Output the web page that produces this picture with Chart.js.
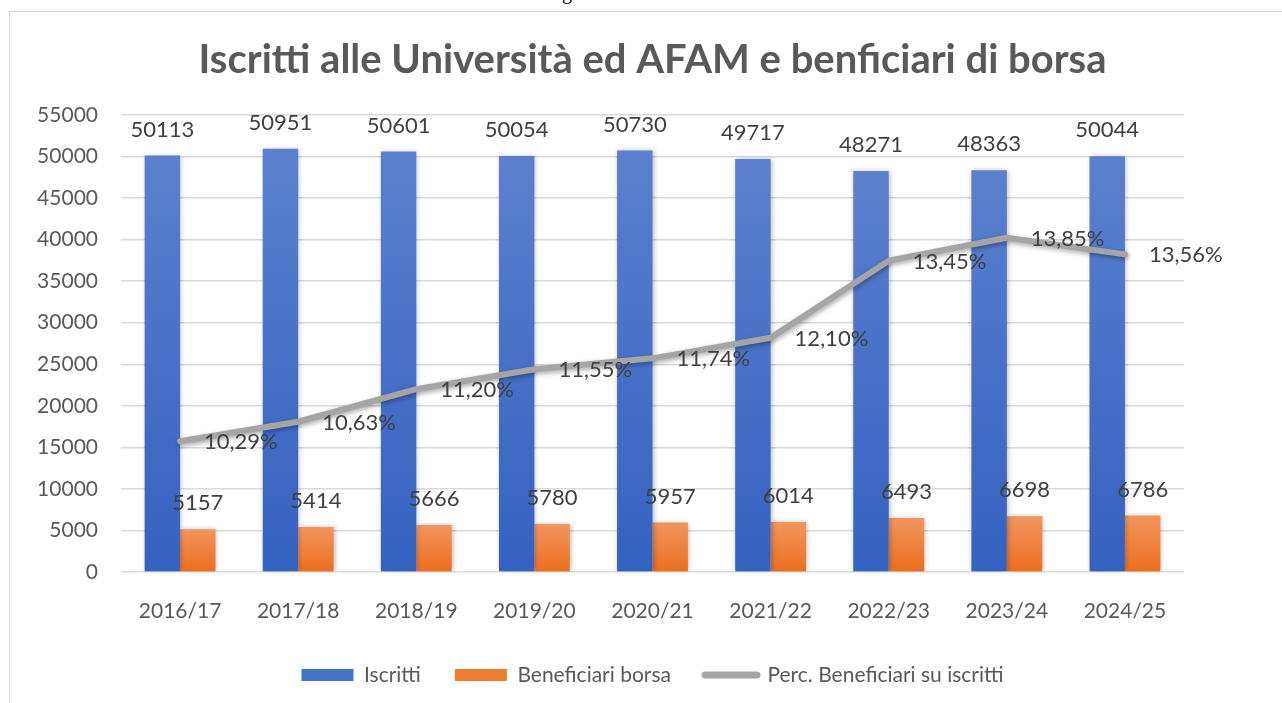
<!DOCTYPE html>
<html>
<head>
<meta charset="utf-8">
<title>Iscritti e beneficiari di borsa</title>
<script src="https://cdn.jsdelivr.net/npm/chart.js@4.4.1/dist/chart.umd.min.js"></script>
<style>
  html, body { margin: 0; padding: 0; background: #fff; overflow: hidden; width: 1282px; height: 703px; }
  #cut { position: absolute; left: 562px; top: -18px; font: 20px "Liberation Serif"; line-height: 20px; color: #000; }
  #frame { position: absolute; left: 9px; top: 11px; width: 1300px; height: 720px; border: 1px solid #d9d9d9; }
  #wrap { position: absolute; left: 0; top: 0; width: 1272px; height: 700px; }
</style>
</head>
<body>
<div id="cut">g</div>
<div id="frame"><div id="wrap"><canvas id="js--chart"></canvas></div></div>
<script>
const years = ["2016/17", "2017/18", "2018/19", "2019/20", "2020/21", "2021/22", "2022/23", "2023/24", "2024/25"];
const iscritti = [50113, 50951, 50601, 50054, 50730, 49717, 48271, 48363, 50044];
const beneficiari = [5157, 5414, 5666, 5780, 5957, 6014, 6493, 6698, 6786];
const percentuali = [10.29, 10.63, 11.20, 11.55, 11.74, 12.10, 13.45, 13.85, 13.56];
const yMin = 0, yMax = 55000, yStep = 5000;
const percMin = 8, percMax = 16;

const textGray = "#595959";
const labelGray = "#404040";

// gradient from the top of each bar down to the base
function barGradient(context, topColor, bottomColor) {
  const chart = context.chart;
  const yScale = chart.scales.y;
  if (!chart.chartArea || !yScale || context.type !== "data") return bottomColor;
  const yTop = yScale.getPixelForValue(context.raw);
  const yBase = yScale.getPixelForValue(0);
  if (!isFinite(yTop) || !isFinite(yBase) || yTop === yBase) return bottomColor;
  const g = chart.ctx.createLinearGradient(0, yTop, 0, yBase);
  g.addColorStop(0, topColor);
  g.addColorStop(1, bottomColor);
  return g;
}

function percText(v) {
  return v.toFixed(2).replace(".", ",") + "%";
}

const shadowPlugin = {
  id: "shadow",
  beforeDatasetDraw(chart, args) {
    const ctx = chart.ctx;
    ctx.save();
    if (args.meta.type === "line") {
      ctx.shadowColor = "rgba(0,0,0,0.35)";
      ctx.shadowBlur = 5;
      ctx.shadowOffsetX = 1;
      ctx.shadowOffsetY = 2;
    } else {
      ctx.shadowColor = "rgba(0,0,0,0.28)";
      ctx.shadowBlur = 5;
      ctx.shadowOffsetX = 1;
      ctx.shadowOffsetY = 0;
    }
  },
  afterDatasetDraw(chart) {
    chart.ctx.restore();
  }
};

const labelPlugin = {
  id: "valueLabels",
  afterDatasetsDraw(chart) {
    const ctx = chart.ctx;
    ctx.save();
    ctx.font = "22px Lato";
    ctx.fillStyle = labelGray;
    ctx.textBaseline = "middle";
    chart.data.datasets.forEach(function (ds, i) {
      const meta = chart.getDatasetMeta(i);
      meta.data.forEach(function (el, j) {
        if (ds.type === "line") {
          ctx.textAlign = "left";
          ctx.fillText(percText(ds.data[j]), el.x + 24, el.y + 1);
        } else {
          ctx.textAlign = "center";
          ctx.fillText(String(ds.data[j]), el.x, el.y - 26);
        }
      });
    });
    ctx.restore();
  }
};

const data = {
  labels: years,
  datasets: [
    {
      type: "bar",
      label: "Iscritti",
      data: iscritti,
      yAxisID: "y",
      order: 1,
      backgroundColor: function (c) { return barGradient(c, "#5B80CD", "#3462C1"); },
      categoryPercentage: 0.6,
      barPercentage: 1.0
    },
    {
      type: "bar",
      label: "Beneficiari borsa",
      data: beneficiari,
      yAxisID: "y",
      order: 1,
      backgroundColor: function (c) { return barGradient(c, "#F2955E", "#EC6E1E"); },
      categoryPercentage: 0.6,
      barPercentage: 1.0
    },
    {
      type: "line",
      label: "Perc. Beneficiari su iscritti",
      data: percentuali,
      yAxisID: "y1",
      order: 0,
      borderColor: "#A5A5A5",
      backgroundColor: "#A5A5A5",
      borderWidth: 6,
      borderCapStyle: "round",
      borderJoinStyle: "round",
      pointRadius: 0,
      tension: 0
    }
  ]
};

const config = {
  type: "bar",
  data: data,
  plugins: [shadowPlugin, labelPlugin],
  options: {
    responsive: true,
    maintainAspectRatio: false,
    animation: false,
    devicePixelRatio: 1,
    layout: { padding: { left: 0, right: 98, top: 0, bottom: 16.5 } },
    plugins: {
      tooltip: { enabled: false },
      title: {
        display: true,
        fullSize: false,
        text: "Iscritti alle Università ed AFAM e benficiari di borsa",
        color: textGray,
        font: { family: "Lato", size: 40, weight: "bold" },
        padding: { top: 24, bottom: 31 }
      },
      legend: {
        display: true,
        position: "bottom",
        fullSize: false,
        labels: {
          usePointStyle: true,
          pointStyleWidth: 52,
          boxHeight: 12,
          padding: 34,
          color: textGray,
          font: { family: "Lato", size: 21 },
          generateLabels: function (chart) {
            return [
              { text: "Iscritti", fillStyle: "#4472C4", strokeStyle: "#4472C4", lineWidth: 0, pointStyle: "rect", datasetIndex: 0, fontColor: textGray },
              { text: "Beneficiari borsa", fillStyle: "#EE7D31", strokeStyle: "#EE7D31", lineWidth: 0, pointStyle: "rect", datasetIndex: 1, fontColor: textGray },
              { text: "Perc. Beneficiari su iscritti", fillStyle: "#A5A5A5", strokeStyle: "#A5A5A5", lineWidth: 7, lineCap: "round", pointStyle: "line", datasetIndex: 2, fontColor: textGray }
            ];
          }
        }
      }
    },
    scales: {
      x: {
        grid: { display: false },
        border: { display: false },
        ticks: { color: textGray, font: { family: "Lato", size: 21 }, padding: 19 },
        afterFit: function (scale) { scale.height = 58.5; }
      },
      y: {
        position: "left",
        min: yMin,
        max: yMax,
        grid: { color: "#D9D9D9", lineWidth: 1.5, drawTicks: false },
        border: { display: false },
        ticks: {
          stepSize: yStep,
          color: textGray,
          font: { family: "Lato", size: 21 },
          padding: 23,
          callback: function (value) { return String(value); }
        },
        afterFit: function (scale) { scale.width = 111; }
      },
      y1: {
        display: false,
        position: "right",
        min: percMin,
        max: percMax
      }
    }
  }
};

new Chart(document.getElementById("js--chart"), config);
</script>
</body>
</html>
